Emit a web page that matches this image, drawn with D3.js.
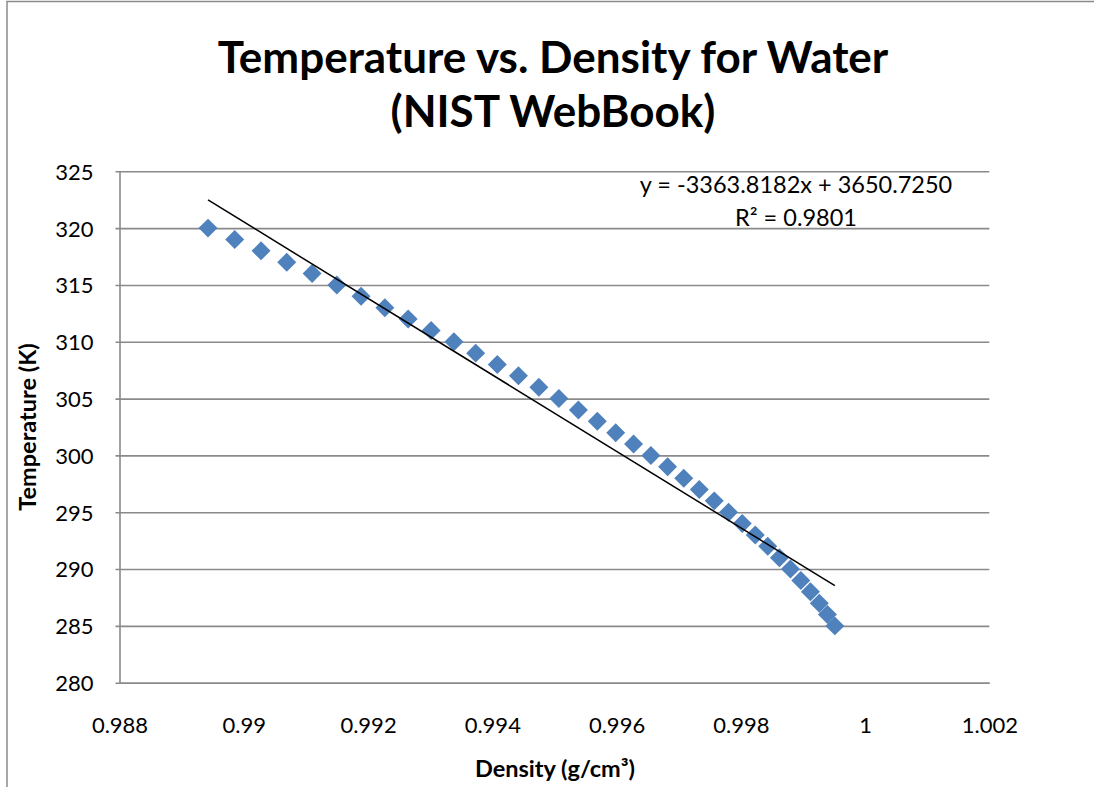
<!DOCTYPE html>
<html>
<head>
<meta charset="utf-8">
<script src="https://cdn.jsdelivr.net/npm/d3@7"></script>
<style>
  html, body { margin: 0; padding: 0; background: #fff; }
  svg { display: block; font-family: Lato, "Open Sans", sans-serif; }
</style>
</head>
<body>
<svg id="chart" width="1094" height="787"></svg>
<script>
// ---- data ----
const temperatures = [285,286,287,288,289,290,291,292,293,294,295,296,297,298,299,300,301,302,
                      303,304,305,306,307,308,309,310,311,312,313,314,315,316,317,318,319,320];
const densities = [0.999514,0.999395,0.999264,0.999121,0.998966,0.998799,0.998622,0.998434,
                   0.998233,0.998024,0.997803,0.997573,0.997332,0.997082,0.996822,0.996553,
                   0.996274,0.995987,0.995691,0.995386,0.995072,0.994750,0.994421,0.994081,
                   0.993733,0.993383,0.993016,0.992646,0.992271,0.991888,0.991499,0.991100,
                   0.990692,0.990278,0.989854,0.989425];
const xTicks = [0.988,0.990,0.992,0.994,0.996,0.998,1.000,1.002];
const xTickLabels = ["0.988","0.99","0.992","0.994","0.996","0.998","1","1.002"];
const yTicks = [280,285,290,295,300,305,310,315,320,325];
const trendSlope = -3363.8182;
const trendIntercept = 3650.7250;
const titleLines = ["Temperature vs. Density for Water", "(NIST WebBook)"];
const xTitle = "Density (g/cm³)";
const yTitle = "Temperature (K)";
const eqLines = ["y = -3363.8182x + 3650.7250", "R² = 0.9801"];

// ---- layout ----
const svg = d3.select("#chart");
const L = 119.5, R = 989.3, T = 171.3, B = 682.7;
const x = d3.scaleLinear().domain([0.988, 1.002]).range([L, R]);
const y = d3.scaleLinear().domain([280, 325]).range([B, T]);
const grid = "#8a8a8a";

svg.append("rect").attr("width", 1094).attr("height", 787).attr("fill", "#fff");

// outer chart border (top + left visible)
svg.append("path")
  .attr("d", "M7,787 L7,1.5 L1094,1.5")
  .attr("fill", "none").attr("stroke", grid).attr("stroke-width", 1.5);

// gridlines + y axis via d3 axis
const yAxis = d3.axisLeft(y).tickValues(yTicks).tickSize(-(R - L)).tickPadding(26).tickSizeOuter(0);
const gy = svg.append("g").attr("transform", `translate(${L},0)`).call(yAxis);
gy.select(".domain").attr("stroke", grid).attr("stroke-width", 1.6);
gy.selectAll(".tick line").attr("stroke", grid).attr("stroke-width", 1.6).attr("x1", -4);
gy.selectAll(".tick text")
  .attr("fill", "#000").attr("font-size", 22).attr("font-family", "Lato, sans-serif")
  .attr("dy", "0.36em");

// x axis labels
const xAxis = d3.axisBottom(x).tickValues(xTicks)
  .tickFormat((d, i) => xTickLabels[i]).tickSize(0).tickPadding(35);
const gx = svg.append("g").attr("transform", `translate(0,${B})`).call(xAxis);
gx.select(".domain").attr("stroke", grid).attr("stroke-width", 1.6);
gx.selectAll(".tick text")
  .attr("fill", "#000").attr("font-size", 22).attr("font-family", "Lato, sans-serif");

// data points (diamonds)
const pts = temperatures.map((t, i) => ({ t, d: densities[i] }));
const diamond = d3.symbol().type(d3.symbolSquare).size(180);
svg.append("g").selectAll("path").data(pts).join("path")
  .attr("d", diamond)
  .attr("transform", p => `translate(${x(p.d)},${y(p.t)}) rotate(45)`)
  .attr("fill", "#4f81bd");

// linear trendline
const xmin = d3.min(densities), xmax = d3.max(densities);
const trend = [xmin, xmax].map(d => ({ d, t: trendSlope * d + trendIntercept }));
svg.append("path")
  .datum(trend)
  .attr("d", d3.line().x(p => x(p.d)).y(p => y(p.t)))
  .attr("fill", "none").attr("stroke", "#000").attr("stroke-width", 1.5);

// equation label
svg.append("g").selectAll("text").data(eqLines).join("text")
  .attr("x", 796).attr("y", (d, i) => 193 + i * 33)
  .attr("text-anchor", "middle").attr("font-size", 23.5).attr("fill", "#000")
  .text(d => d);

// title
svg.append("g").selectAll("text").data(titleLines).join("text")
  .attr("x", 553).attr("y", (d, i) => 73 + i * 54)
  .attr("text-anchor", "middle").attr("font-size", 44).attr("font-weight", "bold")
  .attr("fill", "#000").text(d => d);

// axis titles
svg.append("text").attr("x", 555).attr("y", 777)
  .attr("text-anchor", "middle").attr("font-size", 23.5).attr("font-weight", "bold")
  .text(xTitle);
svg.append("text").attr("transform", "translate(36,427) rotate(-90)")
  .attr("text-anchor", "middle").attr("font-size", 23.5).attr("font-weight", "bold")
  .text(yTitle);
</script>
</body>
</html>
